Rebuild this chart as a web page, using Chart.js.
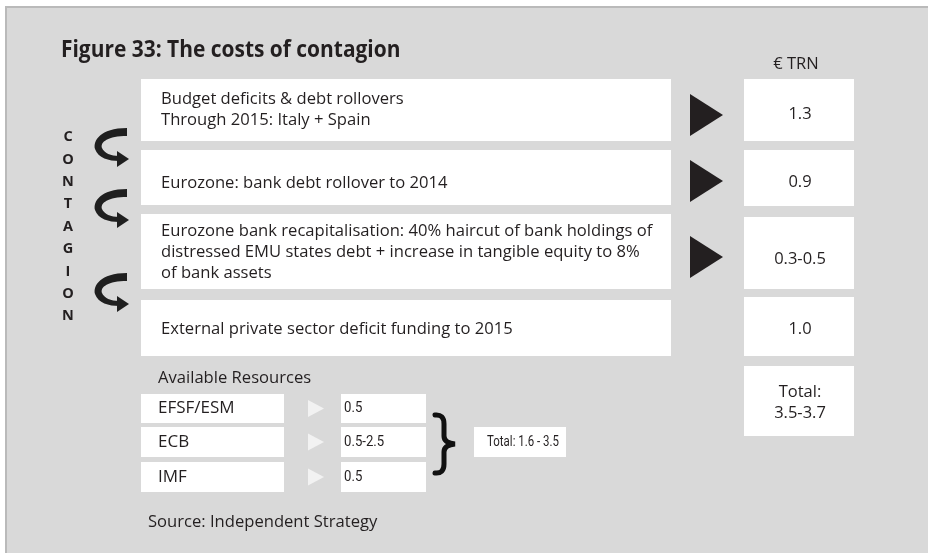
<!DOCTYPE html>
<html>
<head>
<meta charset="utf-8">
<title>Figure 33: The costs of contagion</title>
<script src="https://cdn.jsdelivr.net/npm/chart.js@4/dist/chart.umd.min.js"></script>
<style>
  html, body { margin: 0; padding: 0; background: #ffffff; }
  canvas { display: block; }
</style>
</head>
<body>
<canvas id="myChart" width="928" height="553"></canvas>
<script>
// costs of contagion (€ trn)
const costLabels = [
  ["Budget deficits & debt rollovers", "Through 2015: Italy + Spain"],
  ["Eurozone: bank debt rollover to 2014"],
  ["Eurozone bank recapitalisation: 40% haircut of bank holdings of",
   "distressed EMU states debt + increase in tangible equity to 8%",
   "of bank assets"],
  ["External private sector deficit funding to 2015"]
];
const costLow = [1.3, 0.9, 0.3, 1.0];
const costHigh = [1.3, 0.9, 0.5, 1.0];
const costArrow = [true, true, true, false];
const costTotal = "3.5-3.7";

// available resources
const resLabels = ["EFSF/ESM", "ECB", "IMF"];
const resLow = [0.5, 0.5, 0.5];
const resHigh = [0.5, 2.5, 0.5];
const resTotal = "1.6 - 3.5";

const contagion = "CONTAGION";

// layout (pixel units of the drawing scale)
const rowLeft = [[79, 141], [150, 205], [214, 289], [300, 356]];
const rowRight = [[79, 141], [150, 206], [217, 289], [297, 356]];
const rowTextY = [110, 183, 252, 329];
const valTextY = [114, 182, 259, 329];
const triY = [115, 181, 257];
const curlY = [128, 189, 273];
const resRows = [[394, 423], [427, 457], [462, 492]];

const ink = "#231f20";
const body = "'Open Sans', 'Noto Sans', sans-serif";
const small = "Roboto, 'Liberation Sans', sans-serif";

function fmt(lo, hi) {
  return lo === hi ? lo.toFixed(1) : lo.toFixed(1) + "-" + hi.toFixed(1);
}

const diagram = {
  id: 'diagram',
  afterDraw(chart) {
    const ctx = chart.ctx;
    const xs = chart.scales.x;
    const ys = chart.scales.y;
    const X = v => xs.getPixelForValue(v);
    const Y = v => ys.getPixelForValue(v);

    function box(x0, y0, x1, y1, col) {
      ctx.fillStyle = col;
      ctx.fillRect(X(x0), Y(y0), X(x1) - X(x0), Y(y1) - Y(y0));
    }
    function text(str, x, y, font, align, sx, base) {
      ctx.save();
      ctx.font = font;
      ctx.fillStyle = ink;
      ctx.textAlign = align || 'left';
      ctx.textBaseline = base || 'middle';
      ctx.translate(X(x), Y(y));
      if (sx) ctx.scale(sx, 1);   // squeeze for the narrow labels
      ctx.fillText(str, 0, 0);
      ctx.restore();
    }
    function tri(x0, x1, yc, h, col) {
      ctx.fillStyle = col;
      ctx.beginPath();
      ctx.moveTo(X(x0), Y(yc - h / 2));
      ctx.lineTo(X(x1), Y(yc));
      ctx.lineTo(X(x0), Y(yc + h / 2));
      ctx.closePath();
      ctx.fill();
    }

    ctx.save();
    // panel
    box(5, 6, 928, 553, '#bababa');
    box(7, 8, 928, 553, '#d9d9d9');

    // title
    text("Figure 33: The costs of contagion", 61, 57, "bold 23px " + body, 'left', 0.91, 'alphabetic');
    text("€ TRN", 796, 64, "16.5px " + body, 'center');

    // cost rows
    costLabels.forEach((lines, i) => {
      box(141, rowLeft[i][0], 671, rowLeft[i][1], '#ffffff');
      box(744, rowRight[i][0], 854, rowRight[i][1], '#ffffff');
      const y0 = rowTextY[i] - (lines.length - 1) * 21 / 2;
      lines.forEach((ln, j) => text(ln, 161, y0 + j * 21, "16.6px " + body));
      text(fmt(costLow[i], costHigh[i]), 800, valTextY[i], "16.5px " + body, 'center');
      if (costArrow[i]) tri(690, 723, triY[i], 42, ink);
    });
    box(744, 366, 854, 436, '#ffffff');
    text("Total:", 800, 392, "16.5px " + body, 'center');
    text(costTotal, 800, 413, "16.5px " + body, 'center');

    // contagion letters
    for (let k = 0; k < contagion.length; k++) {
      text(contagion[k], 68, 137 + k * 22.4, "bold 14.5px " + body, 'center');
    }
    // curved arrows
    curlY.forEach(t => {
      ctx.fillStyle = '#1f1f1f';
      ctx.beginPath();
      ctx.moveTo(X(127), Y(t));
      ctx.bezierCurveTo(X(100), Y(t), X(93), Y(t + 13), X(95), Y(t + 21));
      ctx.bezierCurveTo(X(98), Y(t + 30), X(109), Y(t + 33), X(119), Y(t + 33));
      ctx.lineTo(X(119), Y(t + 28));
      ctx.bezierCurveTo(X(111), Y(t + 28), X(104), Y(t + 25), X(102), Y(t + 20));
      ctx.bezierCurveTo(X(100), Y(t + 14), X(108), Y(t + 8), X(127), Y(t + 8));
      ctx.closePath();
      ctx.fill();
      ctx.beginPath();
      ctx.moveTo(X(117), Y(t + 23));
      ctx.lineTo(X(129), Y(t + 31));
      ctx.lineTo(X(117), Y(t + 39));
      ctx.closePath();
      ctx.fill();
    });

    // available resources
    text("Available Resources", 158, 378, "16.6px " + body);
    resLabels.forEach((lab, i) => {
      const r = resRows[i];
      const yc = (r[0] + r[1]) / 2;
      box(141, r[0], 284, r[1], '#ffffff');
      box(341, r[0], 426, r[1], '#ffffff');
      text(lab, 158, yc, "17px " + body);
      tri(308, 324, yc, 17, '#f2f2f2');
      text(fmt(resLow[i], resHigh[i]), 344, yc, "15.5px " + small, 'left', 0.85);
    });
    // brace
    ctx.strokeStyle = '#111111';
    ctx.lineWidth = 5;
    ctx.lineCap = 'round';
    ctx.beginPath();
    ctx.moveTo(X(435), Y(415));
    ctx.quadraticCurveTo(X(444), Y(414), X(444), Y(424));
    ctx.lineTo(X(444), Y(436));
    ctx.quadraticCurveTo(X(444), Y(443), X(455), Y(444));
    ctx.quadraticCurveTo(X(444), Y(445), X(444), Y(452));
    ctx.lineTo(X(444), Y(464));
    ctx.quadraticCurveTo(X(444), Y(474), X(435), Y(473));
    ctx.stroke();
    box(474, 427, 566, 457, '#ffffff');
    text("Total: " + resTotal, 523, 442, "15.5px " + small, 'center', 0.74);

    text("Source: Independent Strategy", 148, 522, "16.6px " + body);
    ctx.restore();
  }
};

new Chart(document.getElementById('myChart'), {
  type: 'scatter',
  data: { datasets: [{ data: [] }] },
  options: {
    responsive: false,
    animation: false,
    devicePixelRatio: 1,
    layout: { padding: 0 },
    plugins: { legend: { display: false }, tooltip: { enabled: false } },
    scales: {
      x: { type: 'linear', min: 0, max: 928, display: false },
      y: { type: 'linear', min: 0, max: 553, reverse: true, display: false }
    }
  },
  plugins: [diagram]
});
</script>
</body>
</html>
